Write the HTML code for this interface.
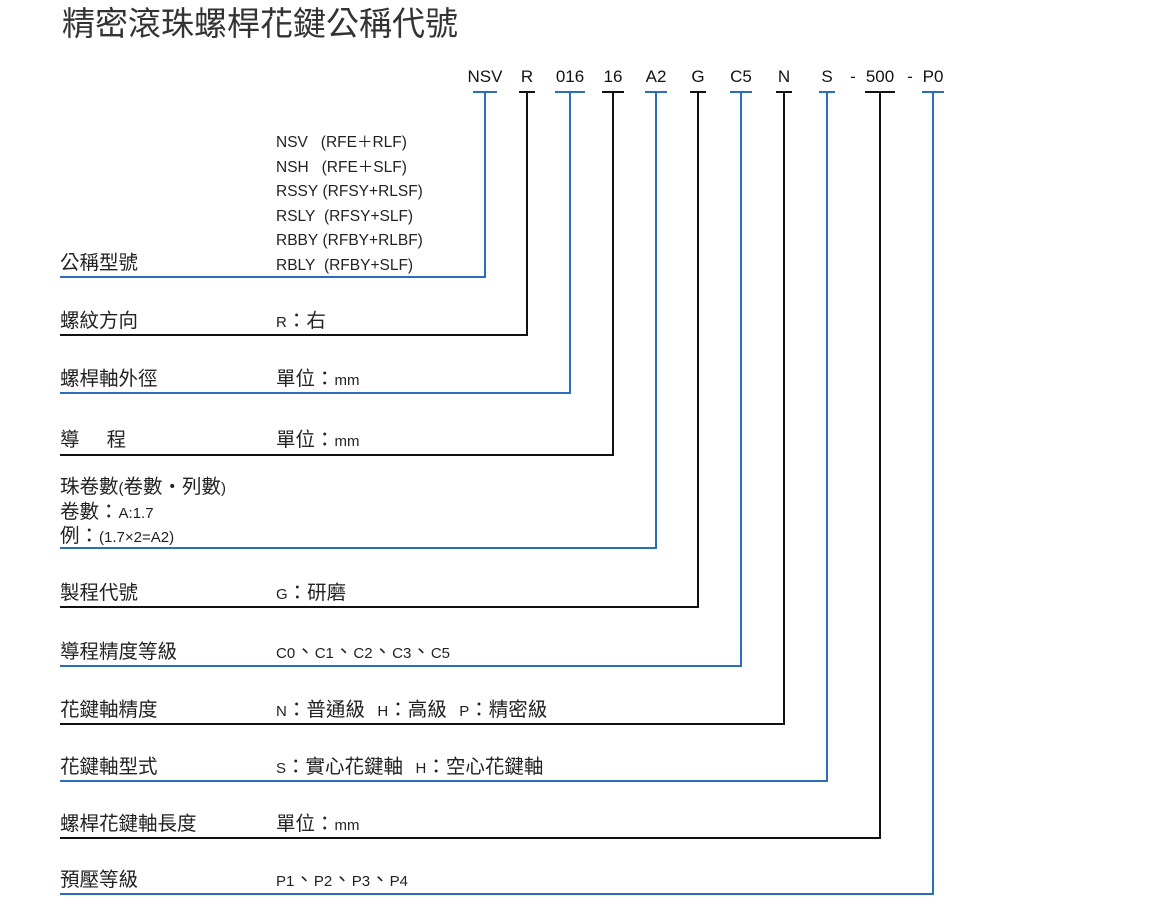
<!DOCTYPE html>
<html><head><meta charset="utf-8"><style>
body{margin:0;width:1175px;height:906px;background:#fff;position:relative;overflow:hidden;font-family:"Liberation Sans","Noto Sans CJK TC",sans-serif;color:#222}
.t{position:absolute;font-size:15px;line-height:20px;white-space:nowrap}
.k{font-size:19.5px;font-weight:normal}
.c{position:absolute;font-size:17px;top:67px;transform:translateX(-50%);color:#111}
svg{position:absolute;left:0;top:0}
</style></head><body>
<div class="t" style="left:62px;top:5px;font-size:33px;line-height:38px;color:#333">精密滾珠螺桿花鍵公稱代號</div>
<div class="c" style="left:485px">NSV</div>
<div class="c" style="left:527px">R</div>
<div class="c" style="left:570px">016</div>
<div class="c" style="left:613px">16</div>
<div class="c" style="left:656px">A2</div>
<div class="c" style="left:698px">G</div>
<div class="c" style="left:741px">C5</div>
<div class="c" style="left:784px">N</div>
<div class="c" style="left:827px">S</div>
<div class="c" style="left:853px">-</div>
<div class="c" style="left:880px">500</div>
<div class="c" style="left:910px">-</div>
<div class="c" style="left:933px">P0</div>
<svg width="1175" height="906">
<g stroke-width="2" fill="none">
<path stroke="#2a6ebb" d="M473 92H497M485 92V277H60"/>
<path stroke="#111" d="M519 92H535M527 92V335H60"/>
<path stroke="#2a6ebb" d="M555 92H585M570 92V393H60"/>
<path stroke="#111" d="M602 92H624M613 92V455H60"/>
<path stroke="#2a6ebb" d="M645 92H667M656 92V548H60"/>
<path stroke="#111" d="M690 92H706M698 92V607H60"/>
<path stroke="#2a6ebb" d="M730 92H752M741 92V666H60"/>
<path stroke="#111" d="M776 92H792M784 92V724H60"/>
<path stroke="#2a6ebb" d="M819 92H835M827 92V781H60"/>
<path stroke="#111" d="M865 92H895M880 92V838H60"/>
<path stroke="#2a6ebb" d="M922 92H944M933 92V894H60"/>
</g></svg>
<div class="t" style="left:276px;top:131px;line-height:24.6px;font-size:15.5px">NSV&nbsp;&nbsp;&nbsp;(RFE＋RLF)<br>NSH&nbsp;&nbsp;&nbsp;(RFE＋SLF)<br>RSSY&nbsp;(RFSY+RLSF)<br>RSLY&nbsp;&nbsp;(RFSY+SLF)<br>RBBY&nbsp;(RFBY+RLBF)<br>RBLY&nbsp;&nbsp;(RFBY+SLF)</div>
<div class="t" style="left:60px;top:253px"><b class="k">公稱型號</b></div>
<div class="t" style="left:60px;top:311px"><b class="k">螺紋方向</b></div><div class="t" style="left:276px;top:311px">R<b class="k">：右</b></div>
<div class="t" style="left:60px;top:369px"><b class="k">螺桿軸外徑</b></div><div class="t" style="left:276px;top:369px"><b class="k">單位：</b>mm</div>
<div class="t" style="left:60px;top:430px"><b class="k">導&nbsp;&nbsp;&nbsp;&nbsp;&nbsp;程</b></div><div class="t" style="left:276px;top:430px"><b class="k">單位：</b>mm</div>
<div class="t" style="left:60px;top:476px;line-height:23.5px"><b class="k">珠卷數</b>(<b class="k">卷數‧列數</b>)<br><b class="k">卷數：</b>A:1.7<br><b class="k">例：</b>(1.7×2=A2)</div>
<div class="t" style="left:60px;top:583px"><b class="k">製程代號</b></div><div class="t" style="left:276px;top:583px">G<b class="k">：研磨</b></div>
<div class="t" style="left:60px;top:642px"><b class="k">導程精度等級</b></div><div class="t" style="left:276px;top:642px">C0<b class="k">、</b>C1<b class="k">、</b>C2<b class="k">、</b>C3<b class="k">、</b>C5</div>
<div class="t" style="left:60px;top:700px"><b class="k">花鍵軸精度</b></div><div class="t" style="left:276px;top:700px">N<b class="k">：普通級</b>&nbsp;&nbsp;&nbsp;H<b class="k">：高級</b>&nbsp;&nbsp;&nbsp;P<b class="k">：精密級</b></div>
<div class="t" style="left:60px;top:757px"><b class="k">花鍵軸型式</b></div><div class="t" style="left:276px;top:757px">S<b class="k">：實心花鍵軸</b>&nbsp;&nbsp;&nbsp;H<b class="k">：空心花鍵軸</b></div>
<div class="t" style="left:60px;top:814px"><b class="k">螺桿花鍵軸長度</b></div><div class="t" style="left:276px;top:814px"><b class="k">單位：</b>mm</div>
<div class="t" style="left:60px;top:870px"><b class="k">預壓等級</b></div><div class="t" style="left:276px;top:870px">P1<b class="k">、</b>P2<b class="k">、</b>P3<b class="k">、</b>P4</div>
</body></html>
